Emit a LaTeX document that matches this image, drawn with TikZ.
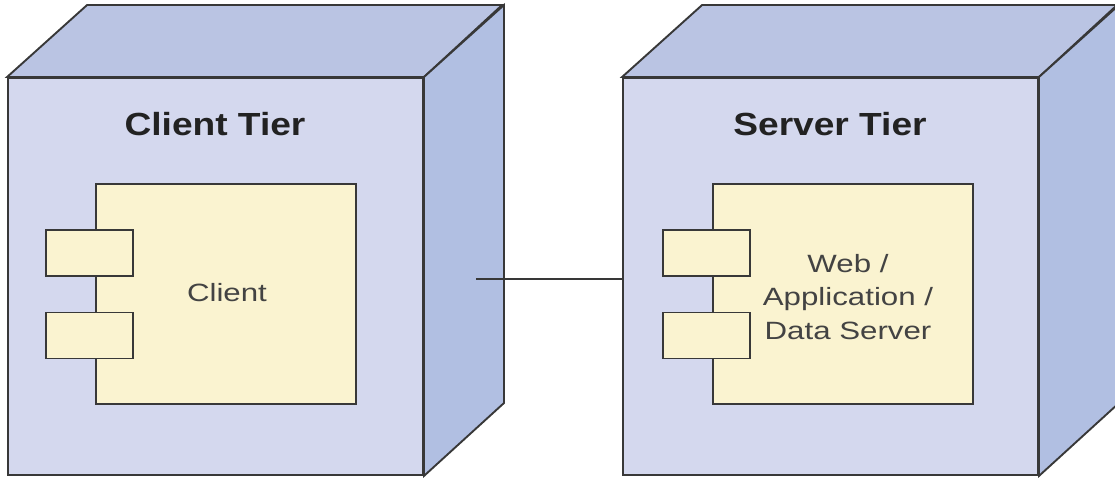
\documentclass[tikz,border=0pt]{standalone}
\usepackage{fontspec}
\setmainfont{Liberation Sans}
\definecolor{edgegray}{HTML}{383838}
\definecolor{frontblue}{HTML}{D4D8EE}
\definecolor{topblue}{HTML}{BAC4E3}
\definecolor{sideblue}{HTML}{B1BFE2}
\definecolor{compyellow}{HTML}{FAF3D0}
\definecolor{inktext}{HTML}{222222}
\begin{document}
\begin{tikzpicture}[x=1pt,y=-1pt,
  facefront/.style={draw=edgegray, line width=1.9pt, fill=frontblue, inner sep=0pt,
    minimum width=415pt, minimum height=397pt},
  facetop/.style={draw=edgegray, line width=1.9pt, fill=topblue, line join=miter},
  faceside/.style={draw=edgegray, line width=1.9pt, fill=sideblue, line join=miter},
  compbox/.style={draw=edgegray, line width=1.8pt, fill=compyellow, inner sep=0pt,
    minimum width=260pt, minimum height=220pt},
  portbox/.style={draw=edgegray, line width=1.8pt, fill=compyellow, inner sep=0pt,
    minimum width=87pt, minimum height=46pt},
  tiertitle/.style={anchor=base, text=inktext, font=\fontsize{32}{38}\bfseries\selectfont,
    xscale=1.16, transform shape},
  complabel/.style={text=inktext!85!white, align=center, inner sep=0pt,
    font=\fontsize{25}{33.5}\selectfont, xscale=1.25, transform shape},
  wire/.style={draw=edgegray, line width=1.8pt}
]
\useasboundingbox (0,0) rectangle (1115,478);

% ---- client node (cube) ----
\node[facefront] (clientfront) at (215.5,276.5) {};
\draw[facetop] (clientfront.north west) -- ++(80,-72) -- ++(415,0)
  -- (clientfront.north east) -- cycle;
\draw[faceside] (clientfront.north east) -- ++(80,-72) -- ++(0,398)
  -- (clientfront.south east) -- cycle;
\node[tiertitle] (clienttitle) at (215,136) {Client Tier};

\node[compbox] (clientbox) at (226,294) {};
\node[portbox] (clientportA) at (89.5,253) {};
\node[portbox] (clientportB) at (89.5,335.5) {};
\node[complabel] (clientlabel) at (227,293) {Client};

% ---- server node (cube) ----
\node[facefront] (serverfront) at (830.5,276.5) {};
\draw[facetop] (serverfront.north west) -- ++(80,-72) -- ++(415,0)
  -- (serverfront.north east) -- cycle;
\draw[faceside] (serverfront.north east) -- ++(80,-72) -- ++(0,398)
  -- (serverfront.south east) -- cycle;
\node[tiertitle] (servertitle) at (830,136) {Server Tier};

\node[compbox] (serverbox) at (843,294) {};
\node[portbox] (serverportA) at (706.5,253) {};
\node[portbox] (serverportB) at (706.5,335.5) {};
\node[complabel] (serverlabel) at (848,297) {Web /\\Application /\\Data Server};

% ---- communication path ----
\coordinate (clientlink) at (476,279);
\draw[wire] (clientlink) -- (clientlink -| serverfront.west);
\end{tikzpicture}
\end{document}
